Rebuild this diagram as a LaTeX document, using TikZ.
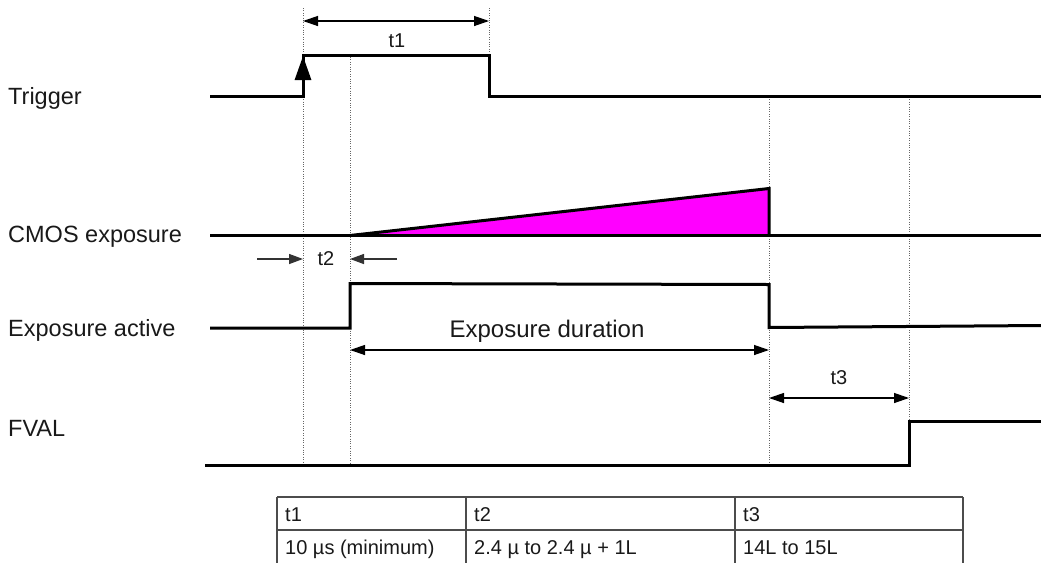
\documentclass[tikz,border=0pt]{standalone}
\usepackage{fontspec}
\setmainfont{Liberation Sans}
\usetikzlibrary{arrows.meta}
\definecolor{mag}{RGB}{255,0,255}
\begin{document}
\begin{tikzpicture}[x=1pt,y=-1pt,
  sig/.style={line width=3pt, line join=miter},
  guide/.style={black!60, line width=0.7pt, dash pattern=on 1pt off 1.4pt},
  dimarrow/.style={line width=1.3pt, {Triangle[length=15pt,width=10pt]}-{Triangle[length=15pt,width=10pt]}},
  onearrow/.style={line width=1.3pt, black!80, -{Triangle[length=14pt,width=10pt]}},
  siglabel/.style={anchor=base west, inner sep=0pt, font=\fontsize{23.5}{27}\selectfont, text=black!90},
  biglabel/.style={inner sep=0pt, font=\fontsize{24}{28}\selectfont, text=black!90},
  smalllabel/.style={inner sep=0pt, font=\fontsize{20}{24}\selectfont, text=black!90},
  celltext/.style={anchor=base west, inner sep=0pt, font=\fontsize{20}{24}\selectfont, text=black!90},
  tableline/.style={black!70, line width=1.3pt}
]
\useasboundingbox (0,0) rectangle (1041,563);

% ---- signal labels
\node[siglabel] (lTrig) at (8,104) {Trigger};
\node[siglabel] (lCmos) at (8,242) {CMOS exposure};
\node[siglabel] (lExp)  at (8,336) {Exposure active};
\node[siglabel] (lFval) at (8,436) {FVAL};

% ---- guide (dotted) lines
\coordinate (g1t) at (303,8);   \coordinate (g1b) at (303,465);
\coordinate (g2t) at (350,57);  \coordinate (g2b) at (350,465);
\coordinate (g3t) at (489,8);   \coordinate (g3b) at (489,55);
\coordinate (g4t) at (769,97);  \coordinate (g4b) at (769,465);
\coordinate (g5t) at (909,97);  \coordinate (g5b) at (909,421);
\draw[guide] (g1t) -- (g1b);
\draw[guide] (g2t) -- (g2b);
\draw[guide] (g3t) -- (g3b);
\draw[guide] (g4t) -- (g4b);
\draw[guide] (g5t) -- (g5b);

% ---- Trigger
\coordinate (tA) at (210,96.5);
\coordinate (tB) at (303,96.5);
\coordinate (tC) at (303,55);
\coordinate (tD) at (489,55);
\coordinate (tE) at (489,96.5);
\coordinate (tF) at (1041,96.5);
\draw[sig] (tA) -- (tB) -- (tC) -- (tD) -- (tE) -- (tF);
\coordinate (tArr) at (303,56);
\draw[line width=3pt, -{Triangle[length=24pt,width=16pt]}] (tB) -- (tArr);

% ---- CMOS exposure
\coordinate (cA) at (210,235.5);
\coordinate (cS) at (350,235.5);
\coordinate (cE) at (769,235.5);
\coordinate (cT) at (769,188.5);
\coordinate (cF) at (1041,235.5);
\fill[mag] (cS) -- (cT) -- (cE) -- cycle;
\draw[sig] (cS) -- (cT) -- (cE);
\draw[sig] (cA) -- (cF);

% ---- Exposure active
\coordinate (eA) at (210,328);
\coordinate (eB) at (350,328);
\coordinate (eC) at (350,283.5);
\coordinate (eD) at (769,284.5);
\coordinate (eE) at (769,327.5);
\coordinate (eF) at (1041,325.5);
\draw[sig] (eA) -- (eB) -- (eC) -- (eD) -- (eE) -- (eF);

% ---- FVAL
\coordinate (fA) at (205,465.5);
\coordinate (fB) at (909,465.5);
\coordinate (fC) at (909,421.5);
\coordinate (fD) at (1041,421.5);
\draw[sig] (fA) -- (fB) -- (fC) -- (fD);

% ---- dimension arrows
\coordinate (d1a) at (303,21); \coordinate (d1b) at (489,21);
\draw[dimarrow] (d1a) -- (d1b);
\node[smalllabel] (lt1) at (397,41) {t1};

\coordinate (d2a) at (257,259); \coordinate (d2b) at (303,259);
\coordinate (d2c) at (397,259); \coordinate (d2d) at (350,259);
\draw[onearrow] (d2a) -- (d2b);
\draw[onearrow] (d2c) -- (d2d);
\node[smalllabel] (lt2) at (326,259) {t2};

\coordinate (d3a) at (350,350); \coordinate (d3b) at (769,350);
\draw[dimarrow] (d3a) -- (d3b);
\node[biglabel] (ldur) at (547,331) {Exposure duration};

\coordinate (d4a) at (769,398); \coordinate (d4b) at (909,398);
\draw[dimarrow] (d4a) -- (d4b);
\node[smalllabel] (lt3) at (839,378) {t3};

% ---- table
\coordinate (tbTL) at (277,497); \coordinate (tbTR) at (963,497);
\coordinate (tbML) at (277,530); \coordinate (tbMR) at (963,530);
\draw[tableline] (tbTL) -- (tbTR);
\draw[tableline] (tbML) -- (tbMR);
\foreach \x in {277,466,735,963} {
  \draw[tableline] (\x,497) -- (\x,563);
}
\node[celltext] (c11) at (285,521) {t1};
\node[celltext] (c12) at (474,521) {t2};
\node[celltext] (c13) at (743,521) {t3};
\node[celltext] (c21) at (285,554) {10 µs (minimum)};
\node[celltext] (c22) at (474,554) {2.4 µ to 2.4 µ + 1L};
\node[celltext] (c23) at (743,554) {14L to 15L};
\end{tikzpicture}
\end{document}
